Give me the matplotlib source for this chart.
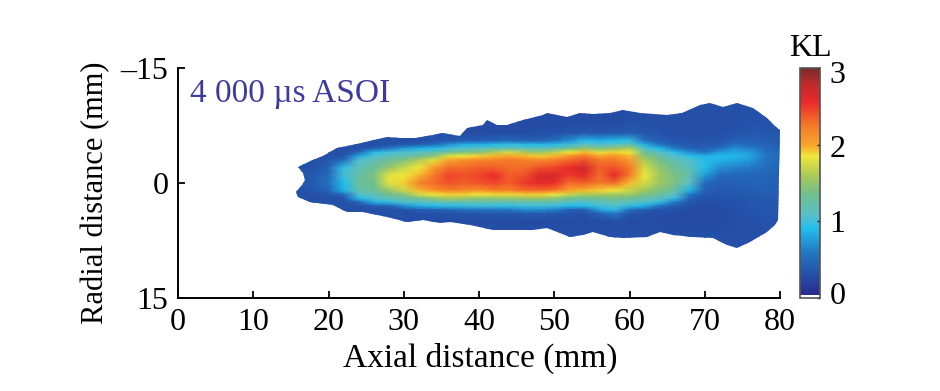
import matplotlib
matplotlib.use('Agg')
import matplotlib.pyplot as plt
from matplotlib.colors import LinearSegmentedColormap
from matplotlib.patches import Polygon
from matplotlib.transforms import ScaledTranslation

plt.rcParams['font.family'] = ['Liberation Serif', 'DejaVu Serif']

# KL field, one row per axial station
radial_mm = [-11, -8, -6.5, -5.5, -5, -4.5, -4, -3.5, -3, -2, -1, 0, 1, 1.5, 2, 2.5, 3, 3.5, 4, 5, 7, 11]
axial_mm = [15, 18, 20, 22, 24, 26, 28, 30, 32, 34, 36, 38, 40, 42, 44, 46, 48, 50, 52, 54, 56, 58, 60,
            62, 64, 66, 68, 70, 72, 74, 76, 78, 81]
kl = [
    [.3, .3, .3, .3, .3, .3, .3, .3, .3, .3, .3, .3, .3, .3, .3, .3, .3, .3, .3, .3, .3, .3],
    [.3, .3, .3, .3, .3, .3, .3, .3, .3, .32, .38, .4, .35, .3, .3, .3, .3, .3, .3, .3, .3, .3],
    [.3, .3, .3, .3, .3, .3, .3, .3, .35, .45, .5, .55, .45, .35, .3, .3, .3, .3, .3, .3, .3, .3],
    [.3, .3, .3, .3, .3, .3, .3, .35, .5, .95, 1.0, .9, .85, .5, .35, .3, .3, .3, .3, .3, .3, .3],
    [.3, .3, .3, .3, .3, .32, .45, .8, 1.05, 1.15, 1.25, 1.3, 1.2, 1.05, .9, .45, .3, .3, .3, .3, .3, .3],
    [.3, .3, .3, .3, .3, .4, .9, 1.05, 1.15, 1.3, 1.4, 1.35, 1.3, 1.15, 1.05, .85, .4, .3, .3, .3, .3, .3],
    [.3, .3, .3, .3, .32, .6, 1.0, 1.15, 1.3, 1.5, 1.8, 1.8, 1.5, 1.35, 1.2, .95, .45, .3, .3, .3, .3, .3],
    [.3, .3, .3, .3, .35, .75, 1.05, 1.2, 1.4, 1.7, 1.85, 1.9, 1.7, 1.45, 1.25, 1.05, .7, .35, .3, .3, .3, .3],
    [.3, .3, .3, .3, .4, .85, 1.1, 1.3, 1.6, 1.85, 1.95, 2.2, 1.95, 1.75, 1.35, 1.1, .85, .4, .3, .28, .3, .3],
    [.3, .3, .3, .33, .5, .9, 1.2, 1.45, 1.8, 2.05, 2.25, 2.3, 2.1, 1.85, 1.5, 1.15, .9, .45, .3, .28, .3, .3],
    [.3, .3, .3, .36, .7, 1.0, 1.3, 1.8, 2.0, 2.3, 2.45, 2.4, 2.2, 1.9, 1.6, 1.2, .95, .5, .32, .28, .3, .3],
    [.28, .28, .28, .4, .85, 1.05, 1.4, 1.85, 2.1, 2.3, 2.4, 2.35, 2.15, 1.9, 1.55, 1.2, .95, .55, .33, .28, .3, .3],
    [.28, .28, .28, .42, .85, 1.1, 1.45, 1.9, 2.15, 2.35, 2.45, 2.4, 2.1, 1.85, 1.5, 1.2, 1.0, .6, .35, .28, .3, .3],
    [.28, .28, .28, .45, .9, 1.15, 1.6, 1.95, 2.2, 2.35, 2.55, 2.45, 2.2, 1.88, 1.5, 1.2, .98, .6, .35, .28, .3, .3],
    [.28, .28, .28, .5, .95, 1.2, 1.75, 2.0, 2.25, 2.3, 2.35, 2.35, 2.2, 1.88, 1.5, 1.2, .95, .6, .35, .28, .3, .3],
    [.28, .28, .28, .45, .92, 1.15, 1.6, 1.95, 2.2, 2.3, 2.4, 2.5, 2.3, 1.9, 1.55, 1.2, 1.0, .7, .38, .28, .3, .3],
    [.28, .28, .3, .42, .88, 1.1, 1.5, 1.9, 2.15, 2.4, 2.65, 2.6, 2.3, 1.9, 1.55, 1.2, 1.0, .7, .38, .28, .3, .3],
    [.28, .28, .3, .55, .92, 1.2, 1.65, 1.95, 2.2, 2.45, 2.65, 2.55, 2.25, 1.85, 1.5, 1.2, .98, .65, .36, .28, .3, .3],
    [.28, .28, .33, .7, 1.0, 1.35, 1.85, 2.1, 2.3, 2.55, 2.5, 2.3, 2.0, 1.7, 1.35, 1.1, .9, .45, .33, .28, .3, .3],
    [.28, .28, .36, .92, 1.1, 1.5, 1.95, 2.25, 2.4, 2.7, 2.6, 2.35, 1.95, 1.6, 1.3, 1.05, .9, .42, .3, .28, .3, .3],
    [.28, .28, .35, .85, 1.05, 1.4, 1.8, 2.0, 2.25, 2.35, 2.3, 2.25, 1.9, 1.6, 1.35, 1.15, 1.0, .8, .45, .28, .3, .3],
    [.28, .28, .36, .9, 1.1, 1.5, 1.9, 2.1, 2.25, 2.4, 2.6, 2.3, 1.85, 1.55, 1.4, 1.2, 1.05, .95, .6, .3, .3, .3],
    [.28, .3, .4, .95, 1.2, 1.6, 1.85, 1.95, 2.05, 2.25, 2.25, 1.95, 1.7, 1.55, 1.35, 1.15, .95, .55, .35, .28, .3, .3],
    [.3, .3, .35, .55, .85, 1.05, 1.3, 1.45, 1.6, 1.75, 1.85, 1.75, 1.55, 1.4, 1.25, 1.05, .85, .42, .3, .28, .3, .3],
    [.3, .3, .32, .42, .55, .9, 1.1, 1.25, 1.35, 1.5, 1.55, 1.55, 1.4, 1.3, 1.15, .95, .55, .35, .3, .28, .3, .3],
    [.3, .3, .3, .35, .42, .6, .92, 1.05, 1.2, 1.3, 1.4, 1.4, 1.25, 1.1, .95, .6, .4, .32, .28, .26, .3, .3],
    [.3, .3, .3, .33, .38, .45, .7, .92, 1.05, 1.15, 1.2, 1.1, .85, .6, .45, .35, .3, .28, .26, .26, .3, .3],
    [.3, .3, .3, .33, .36, .42, .55, .85, .92, .9, .75, .5, .42, .36, .32, .3, .28, .26, .26, .26, .3, .3],
    [.3, .3, .3, .36, .4, .55, .75, .9, .85, .7, .5, .42, .36, .34, .32, .3, .3, .28, .28, .28, .3, .3],
    [.3, .3, .33, .42, .55, .7, .82, .88, .82, .65, .48, .42, .38, .36, .34, .32, .32, .3, .3, .3, .3, .3],
    [.3, .32, .36, .45, .5, .62, .75, .8, .75, .6, .48, .44, .4, .38, .36, .35, .34, .33, .32, .3, .3, .3],
    [.3, .32, .36, .4, .44, .5, .55, .6, .58, .52, .46, .44, .42, .4, .38, .37, .36, .35, .34, .32, .3, .3],
    [.3, .32, .34, .36, .38, .4, .42, .44, .44, .42, .42, .4, .4, .38, .37, .36, .35, .34, .33, .32, .3, .3],
]

# plume outline
upper_x = [15.95, 16.5, 17.9, 19.3, 21.1, 23.8, 27.8, 29.5, 31.5, 33.9, 35.1, 37.5, 38.4, 40.5, 41.1, 42.4, 43.7, 45.8,
           48.5, 49.0, 51.7, 53.4, 55.1, 57.4, 59.1, 61.4, 65.0, 67.0, 69.4, 70.7, 72.4, 74.3, 76.4, 78.3, 79.6, 80.0]
upper_y = [-2.1, -2.3, -3.0, -3.5, -4.6, -5.1, -6.0, -5.9, -5.9, -6.3, -6.5, -6.1, -7.2, -7.6, -8.2, -7.6, -7.6, -8.2,
           -8.9, -9.1, -8.6, -9.1, -9.0, -9.1, -9.5, -9.1, -8.9, -9.1, -10.2, -10.4, -9.9, -10.4, -9.8, -8.5, -7.2, -6.9]
lower_x = [79.7, 79.3, 78.3, 76.0, 74.3, 73.0, 71.1, 68.4, 65.8, 64.1, 62.3, 59.1, 57.4, 55.1, 53.8, 52.1, 49.0, 47.2,
           44.1, 41.9, 38.8, 36.1, 34.8, 32.6, 30.4, 27.8, 24.6, 22.5, 20.6, 17.5, 15.95, 15.7, 16.5, 16.9, 16.6]
lower_y = [4.8, 5.5, 6.4, 7.7, 8.5, 8.1, 7.2, 7.0, 6.8, 6.4, 7.0, 7.2, 7.0, 6.4, 6.8, 7.0, 5.9, 6.1,
           6.1, 6.1, 5.5, 5.1, 5.2, 4.8, 5.1, 4.4, 3.8, 3.8, 2.9, 2.5, 1.8, 1.2, .3, -.4, -1.3]

x_ticks = [0, 10, 20, 30, 40, 50, 60, 70, 80]
y_ticks = [-15, 0, 15]
y_tick_labels = ['\u201315', '0', '15']
kl_ticks = [0, 1, 2, 3]

kl_cmap = LinearSegmentedColormap.from_list('kl', [
    (0, '#ffffff'), (.012, '#ffffff'), (.013, '#2a2a8c'), (.1, '#2450a8'),
    (.2, '#2378c4'), (.3, '#22bdec'), (.36, '#5bbfc9'), (.45, '#6fbf8f'),
    (.53, '#a9c858'), (.617, '#eee83a'), (.66, '#f8a82c'), (.75, '#f57a28'),
    (.85, '#ec2a2a'), (.93, '#c02a2a'), (1, '#7a2a2a'),
], N=512)

fig = plt.figure(figsize=(9.4, 3.91), dpi=100)
ax = fig.add_axes([178 / 940, 1 - 298 / 391, 602 / 940, 230 / 391])
quad = ax.pcolormesh(axial_mm, radial_mm, list(map(list, zip(*kl))), cmap=kl_cmap,
                     vmin=0, vmax=3, shading='gouraud', rasterized=True)
outline = Polygon(list(zip(upper_x + lower_x, upper_y + lower_y)), transform=ax.transData,
                  fc='none', ec='none')
ax.add_patch(outline)
quad.set_clip_path(outline)

ax.set_xlim(0, 80)
ax.set_ylim(15, -15)
ax.spines['top'].set_visible(False)
ax.spines['right'].set_visible(False)
ax.spines['left'].set_linewidth(1.4)
ax.spines['bottom'].set_linewidth(1.4)
ax.set_xticks(x_ticks)
ax.set_yticks(y_ticks, y_tick_labels)
ax.tick_params(direction='in', length=5, width=1.3, labelsize=23, pad=7)
ax.set_xlabel('Axial distance (mm)', fontsize=24)
ax.set_ylabel('Radial distance (mm)', fontsize=22)
ax.xaxis.set_label_coords(.502, -.195)
ax.yaxis.set_label_coords(-.113, .457)
fig.text(190 / 940, 1 - 94 / 391, '4 000 \u00b5s ASOI', fontsize=24, color='#3f3a9e',
         va='center', ha='left')

cax = fig.add_axes([800 / 940, 1 - 298 / 391, 20 / 940, 230 / 391])
cbar = fig.colorbar(quad, cax=cax)
cbar.solids.set_clip_path(None)
cbar.set_ticks(kl_ticks)
cbar.outline.set_edgecolor('#555555')
cbar.outline.set_linewidth(1.2)
cax.tick_params(direction='in', length=2, width=1, labelsize=23, pad=7, color='#222222')
for label, shift in zip(cax.get_yticklabels(), [5, 0, -1, -4]):
    label.set_transform(label.get_transform() + ScaledTranslation(0, shift / 100, fig.dpi_scale_trans))
fig.text(810 / 940, 1 - 48 / 391, 'KL', fontsize=23, ha='center', va='center')

fig.savefig('out.png', dpi=100)
